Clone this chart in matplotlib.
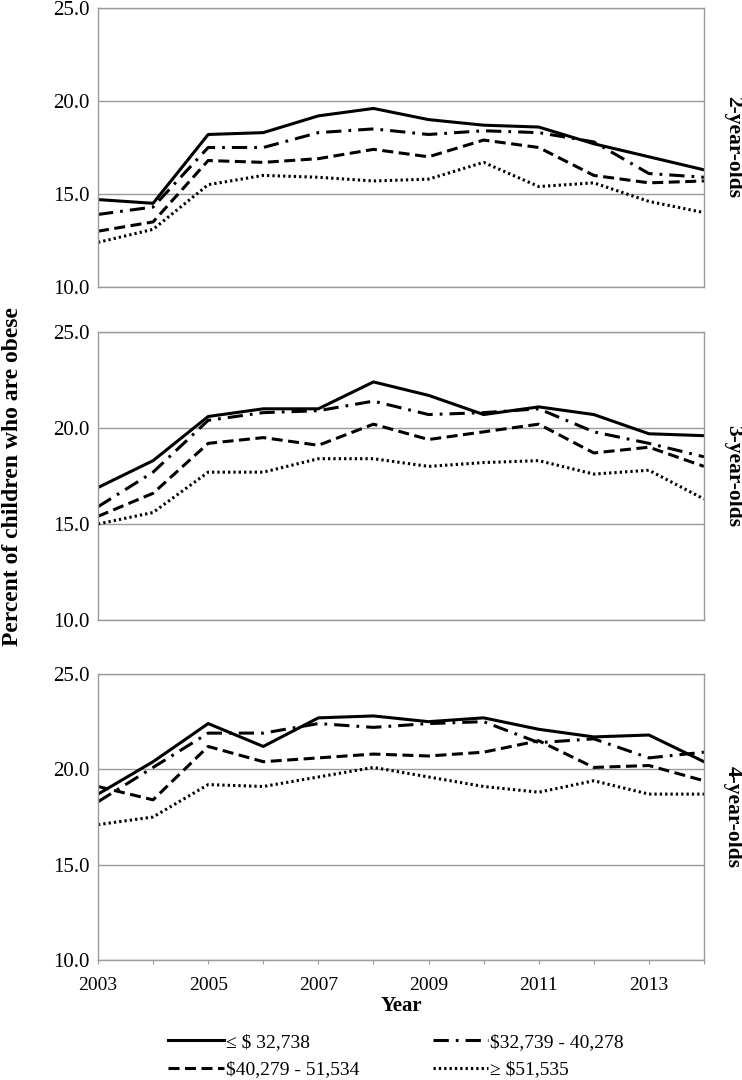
import matplotlib
matplotlib.use("Agg")
import matplotlib.pyplot as plt
from matplotlib.ticker import FixedLocator, FormatStrFormatter

plt.rcParams['font.family'] = ['Liberation Serif', 'DejaVu Serif']

# Data: percent of children who are obese, by income group
years = [2003, 2004, 2005, 2006, 2007, 2008, 2009, 2010, 2011, 2012, 2013, 2014]
groups = [r"≤ \$ 32,738", r"\$32,739 - 40,278", r"\$40,279 - 51,534", r"≥ \$51,535"]
panel_labels = ["2-year-olds", "3-year-olds", "4-year-olds"]

age2_low = [14.7, 14.5, 18.2, 18.3, 19.2, 19.6, 19.0, 18.7, 18.6, 17.7, 17.0, 16.3]
age2_lowmid = [13.9, 14.3, 17.5, 17.5, 18.3, 18.5, 18.2, 18.4, 18.3, 17.8, 16.1, 15.9]
age2_highmid = [13.0, 13.5, 16.8, 16.7, 16.9, 17.4, 17.0, 17.9, 17.5, 16.0, 15.6, 15.7]
age2_high = [12.4, 13.1, 15.5, 16.0, 15.9, 15.7, 15.8, 16.7, 15.4, 15.6, 14.6, 14.0]

age3_low = [16.9, 18.3, 20.6, 21.0, 21.0, 22.4, 21.7, 20.7, 21.1, 20.7, 19.7, 19.6]
age3_lowmid = [15.9, 17.7, 20.4, 20.8, 20.9, 21.4, 20.7, 20.8, 21.0, 19.8, 19.2, 18.5]
age3_highmid = [15.4, 16.6, 19.2, 19.5, 19.1, 20.2, 19.4, 19.8, 20.2, 18.7, 19.0, 18.0]
age3_high = [15.0, 15.6, 17.7, 17.7, 18.4, 18.4, 18.0, 18.2, 18.3, 17.6, 17.8, 16.3]

age4_low = [18.7, 20.4, 22.4, 21.2, 22.7, 22.8, 22.5, 22.7, 22.1, 21.7, 21.8, 20.4]
age4_lowmid = [18.3, 20.1, 21.9, 21.9, 22.4, 22.2, 22.4, 22.5, 21.4, 21.6, 20.6, 20.9]
age4_highmid = [19.1, 18.4, 21.2, 20.4, 20.6, 20.8, 20.7, 20.9, 21.5, 20.1, 20.2, 19.4]
age4_high = [17.1, 17.5, 19.2, 19.1, 19.6, 20.1, 19.6, 19.1, 18.8, 19.4, 18.7, 18.7]

panels = [
    [age2_low, age2_lowmid, age2_highmid, age2_high],
    [age3_low, age3_lowmid, age3_highmid, age3_high],
    [age4_low, age4_lowmid, age4_highmid, age4_high],
]

styles = ['-', (0, (5, 2.3, 0.9, 2.3)), (0, (3.6, 1.8)), (0, (0.75, 1.0))]

W, H = 742, 1080
# axes boxes in pixels: (top, bottom)
boxes = [(8, 287), (332, 620), (674, 960)]
x0, x1 = 98, 704

fig = plt.figure(figsize=(W / 100, H / 100), dpi=100)
gray = '#9a9a9a'

axes = []
for i, (top, bot) in enumerate(boxes):
    ax = fig.add_axes([x0 / W, 1 - bot / H, (x1 - x0) / W, (bot - top) / H])
    for j, series in enumerate(panels[i]):
        ax.plot(years, series, color='black', linestyle=styles[j], lw=2.2,
                label=groups[j], dash_capstyle='butt')
    ax.set_xlim(2003, 2014)
    ax.set_ylim(10, 25)
    ax.set_yticks([10, 15, 20, 25])
    ax.yaxis.set_major_formatter(FormatStrFormatter('%.1f'))
    ax.tick_params(axis='y', length=0, labelsize=15, pad=6)
    ax.grid(axis='y', color=gray, lw=1)
    ax.set_axisbelow(True)
    for s in ax.spines.values():
        s.set_color(gray)
        s.set_linewidth(1)
    yc = 1 - (top + bot) / 2 / H
    fig.text(733 / W, yc, panel_labels[i], rotation=270,
             ha='center', va='center', fontsize=15.5, fontweight='bold')
    if i < 2:
        ax.set_xticks([])
    else:
        ax.xaxis.set_major_locator(FixedLocator(years))
        ax.set_xticklabels([str(y) if y % 2 == 1 else '' for y in years])
        ax.tick_params(axis='x', direction='out', length=3, color=gray,
                       labelsize=14, pad=9)
        ax.set_xlabel('Year', fontsize=15, fontweight='bold', labelpad=2)
    axes.append(ax)

fig.text(13 / W, 1 - 477 / H, 'Percent of children who are obese', rotation=90,
         ha='center', va='center', fontsize=17, fontweight='bold')

h, l = axes[2].get_legend_handles_labels()
order = [0, 2, 1, 3]
fig.legend([h[k] for k in order], [l[k] for k in order], ncol=2, frameon=False,
           loc='center', bbox_to_anchor=(0.534, 1 - 1056 / H), fontsize=14,
           handlelength=2.85, handletextpad=0.1, columnspacing=3.8,
           labelspacing=0.5, borderpad=0.2)

fig.savefig('out.png', dpi=100)
